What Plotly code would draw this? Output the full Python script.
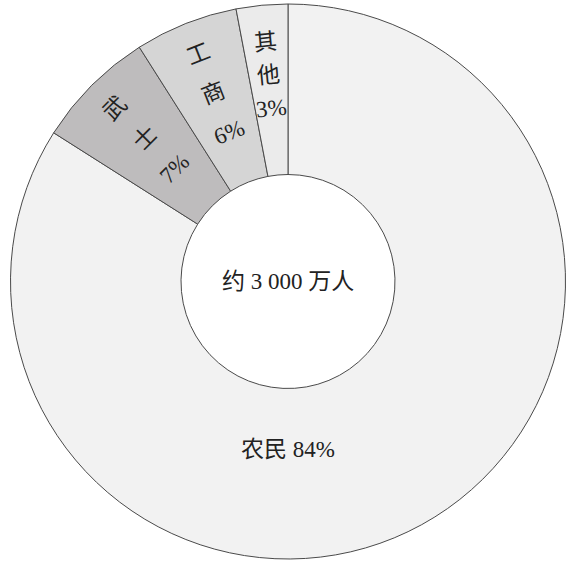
import math
import plotly.graph_objects as go

# ---- data ----
categories = ["农民", "武士", "工商", "其他"]
shares = [84, 7, 6, 3]
colors = ["#f2f2f2", "#bebcbd", "#d5d5d5", "#ebebeb"]
center_label = "约 3 000 万人"

# ---- geometry (pixels) ----
W, H = 574, 561
CX, CY = 288.0, 281.5
R_OUT = 277.5
R_IN = 107.0
FONT = "Liberation Serif, Times New Roman, Noto Sans CJK SC, serif"
TXT = "#222222"
FS = 23

fig = go.Figure(go.Pie(
    labels=categories,
    values=shares,
    sort=False,
    direction="clockwise",
    rotation=0,
    hole=R_IN / R_OUT,
    marker=dict(colors=colors, line=dict(color="#4a4a4a", width=1)),
    textinfo="none",
    hoverinfo="label+percent",
    showlegend=False,
    domain=dict(x=[(CX - R_OUT) / W, (CX + R_OUT) / W],
                y=[1 - (CY + R_OUT) / H, 1 - (CY - R_OUT) / H]),
))

def to_paper(theta_deg, r):
    t = math.radians(theta_deg)
    x = CX + r * math.sin(t)
    y = CY - r * math.cos(t)
    return x / W, 1 - y / H

def ann(px, py, text, angle=0):
    return dict(x=px, y=py, xref="paper", yref="paper", text=text,
                showarrow=False, xanchor="center", yanchor="middle",
                textangle=angle, font=dict(family=FONT, size=FS, color=TXT))

annotations = []
total = sum(shares)
cum = 0
# per-slice label layout: (centre radius, line spacing)
label_layout = {"武士": (202, 42), "工商": (202, 42), "其他": (207, 33)}
for cat, v in zip(categories, shares):
    mid = 360.0 * (cum + v / 2) / total
    cum += v
    if cat == "农民":
        px, py = to_paper(180, 168)
        annotations.append(ann(px, py, f"{cat} {v}%"))
        continue
    rc, sp = label_layout[cat]
    lines = list(cat) + [f"{v}%"]
    n = len(lines)
    for i, ln in enumerate(lines):
        r = rc + sp * ((n - 1) / 2 - i)
        px, py = to_paper(mid, r)
        annotations.append(ann(px, py, ln, mid - 360))

annotations.append(ann(CX / W, 1 - CY / H, center_label))

fig.update_layout(
    width=W, height=H,
    margin=dict(l=0, r=0, t=0, b=0),
    paper_bgcolor="white",
    plot_bgcolor="white",
    annotations=annotations,
)

fig.write_html("out.html")
